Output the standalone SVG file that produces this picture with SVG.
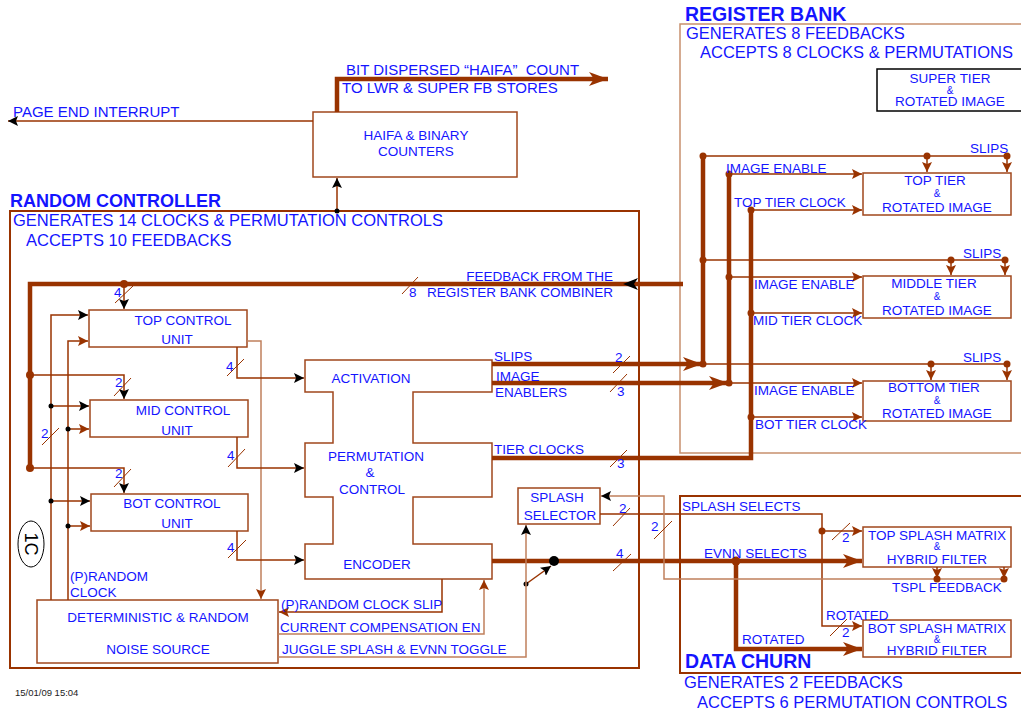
<svg xmlns="http://www.w3.org/2000/svg" width="1021" height="711" viewBox="0 0 1021 711">
<style>
text{font-family:"Liberation Sans",Arial,sans-serif;fill:#1414ff;font-size:13.5px}
.t{font-size:15px}
.big{font-size:16.5px}
.h{font-size:18px;font-weight:bold}
.h2{font-size:19.5px;font-weight:bold}
.sm{font-size:10px}
.mid{text-anchor:middle}
.box{fill:#fff;stroke:#a0471c;stroke-width:1.5}
.c{fill:none;stroke:#993300;stroke-width:1.5}
.lt{fill:none;stroke:#c0805c;stroke-width:1.5}
.th{fill:none;stroke:#993300;stroke-width:4.5}
.sl{stroke:#993300;stroke-width:1}
.d{fill:#993300}
.kd{fill:#000}
</style>
<defs>
<marker id="ak" markerUnits="userSpaceOnUse" markerWidth="11" markerHeight="10" refX="10" refY="5" orient="auto"><path d="M0,0 L10,5 L0,10 L2,5 z" fill="#000"/></marker>
<marker id="ar" markerUnits="userSpaceOnUse" markerWidth="11" markerHeight="10" refX="10" refY="5" orient="auto"><path d="M0,0 L10,5 L0,10 L2,5 z" fill="#993300"/></marker>
<marker id="ab" markerUnits="userSpaceOnUse" markerWidth="20" markerHeight="16" refX="19" refY="8" orient="auto"><path d="M0,1 L19,8 L0,15 L5,8 z" fill="#993300"/></marker>
</defs>

<g id="random-controller">
<rect x="10" y="211" width="629" height="457" fill="none" stroke="#993300" stroke-width="2"/>
<text class="h" x="10" y="207">RANDOM CONTROLLER</text>
<text class="big" x="13" y="226">GENERATES 14 CLOCKS &amp; PERMUTATION CONTROLS</text>
<text class="big" x="26" y="246">ACCEPTS 10 FEEDBACKS</text>
</g>

<g id="register-bank">
<path d="M1022,24 H680 V453 H1022" fill="none" stroke="#c8906e" stroke-width="1.5"/>
<text class="h2" x="685" y="21">REGISTER BANK</text>
<text class="big" x="686" y="39">GENERATES 8 FEEDBACKS</text>
<text class="big" x="700" y="58">ACCEPTS 8 CLOCKS &amp; PERMUTATIONS</text>
</g>

<g id="data-churn">
<path d="M1022,496 H680 V673 H1022" fill="none" stroke="#993300" stroke-width="2"/>
<text class="h2" x="685" y="668">DATA CHURN</text>
<text class="big" x="684" y="688">GENERATES 2 FEEDBACKS</text>
<text class="big" x="697" y="708">ACCEPTS 6 PERMUTATION CONTROLS</text>
</g>

<g id="haifa">
<rect class="box" x="313" y="112" width="204" height="65"/>
<text class="mid" x="416" y="140">HAIFA &amp; BINARY</text>
<text class="mid" x="416" y="156">COUNTERS</text>
</g>

<g id="super-tier">
<rect x="877" y="69" width="150" height="42" fill="#fff" stroke="#000" stroke-width="1.5"/>
<text class="mid" x="950" y="83">SUPER TIER</text>
<text class="mid sm" x="950" y="94">&amp;</text>
<text class="mid" x="950" y="106">ROTATED IMAGE</text>
</g>

<g id="top-tier">
<rect class="box" x="863" y="173" width="148" height="42"/>
<text class="mid" x="935" y="185">TOP TIER</text>
<text class="mid sm" x="937" y="197">&amp;</text>
<text class="mid" x="937" y="212">ROTATED IMAGE</text>
</g>

<g id="middle-tier">
<rect class="box" x="863" y="276" width="148" height="42"/>
<text class="mid" x="934" y="288">MIDDLE TIER</text>
<text class="mid sm" x="937" y="300">&amp;</text>
<text class="mid" x="937" y="315">ROTATED IMAGE</text>
</g>

<g id="bottom-tier">
<rect class="box" x="863" y="381" width="148" height="40"/>
<text class="mid" x="934" y="392">BOTTOM TIER</text>
<text class="mid sm" x="937" y="404">&amp;</text>
<text class="mid" x="937" y="418">ROTATED IMAGE</text>
</g>

<g id="top-control">
<rect class="box" x="89" y="310" width="158" height="37"/>
<text class="mid" x="183" y="325">TOP CONTROL</text>
<text class="mid" x="177" y="344">UNIT</text>
</g>

<g id="mid-control">
<rect class="box" x="90" y="400" width="158" height="37"/>
<text class="mid" x="183" y="415">MID CONTROL</text>
<text class="mid" x="177" y="435">UNIT</text>
</g>

<g id="bot-control">
<rect class="box" x="91" y="494" width="157" height="37"/>
<text class="mid" x="172" y="508">BOT CONTROL</text>
<text class="mid" x="177" y="528">UNIT</text>
</g>

<g id="activation-permutation-encoder">
<path class="box" d="M305,360 H492 V392 H413 V443 H492 V497 H413 V544 H492 V579 H305 V544 H333 V497 H305 V443 H333 V392 H305 Z"/>
<text class="mid" x="371" y="383">ACTIVATION</text>
<text class="mid" x="376" y="461">PERMUTATION</text>
<text class="mid" x="370" y="477">&amp;</text>
<text class="mid" x="372" y="494">CONTROL</text>
<text class="mid" x="377" y="569">ENCODER</text>
</g>

<g id="splash-selector">
<rect class="box" x="518" y="488" width="82" height="36"/>
<text class="mid" x="557" y="502">SPLASH</text>
<text class="mid" x="560" y="520">SELECTOR</text>
</g>

<g id="noise-source">
<rect class="box" x="37" y="600" width="241" height="63"/>
<text class="mid" x="158" y="622">DETERMINISTIC &amp; RANDOM</text>
<text class="mid" x="158" y="654">NOISE SOURCE</text>
</g>

<g id="label-1c">
<ellipse cx="31" cy="544" rx="13" ry="23" fill="#fff" stroke="#000" stroke-width="1"/>
<text x="31" y="544" text-anchor="middle" transform="rotate(90 31 544)" dy="6" style="fill:#000;font-size:18px">1C</text>
</g>

<g id="top-splash">
<rect class="box" x="863" y="527" width="148" height="40"/>
<text class="mid" x="937" y="540">TOP SPLASH MATRIX</text>
<text class="mid sm" x="937" y="550">&amp;</text>
<text class="mid" x="937" y="564">HYBRID FILTER</text>
</g>

<g id="bot-splash">
<rect class="box" x="863" y="620" width="148" height="37"/>
<text class="mid" x="937" y="633">BOT SPLASH MATRIX</text>
<text class="mid sm" x="937" y="643">&amp;</text>
<text class="mid" x="937" y="655">HYBRID FILTER</text>
</g>

<g id="connectors">
<path class="c" d="M313,121 H8" marker-end="url(#ak)"/>
<text class="t" x="13" y="117">PAGE END INTERRUPT</text>
<path class="c" d="M337,211 V178" marker-end="url(#ak)"/>
<circle class="kd" cx="337" cy="211" r="2.5"/>
<path class="th" d="M337,112 V79 H608" stroke-width="5" marker-end="url(#ab)"/>
<text class="t" x="346" y="75" style="white-space:pre">BIT DISPERSED “HAIFA”  COUNT</text>
<text class="t" x="342" y="93">TO LWR &amp; SUPER FB STORES</text>

<path class="th" d="M683,284 H30 V468" stroke-width="5"/>
<polygon points="623,284 638,278 634,284 638,290" fill="#000"/>
<line class="sl" x1="402" y1="294" x2="418" y2="277"/>
<text x="409" y="297">8</text>
<text x="613" y="281" text-anchor="end">FEEDBACK FROM THE</text>
<text x="613" y="297" text-anchor="end">REGISTER BANK COMBINER</text>
<circle class="d" cx="124" cy="284" r="4"/>
<circle class="d" cx="30" cy="375" r="4"/>
<circle class="d" cx="30" cy="468" r="4"/>
<path class="c" d="M124,284 V309" marker-end="url(#ak)"/>
<line class="sl" x1="115" y1="303" x2="133" y2="286"/>
<text x="114" y="297">4</text>
<path class="c" d="M30,375 H124 V399" marker-end="url(#ak)"/>
<line class="sl" x1="114" y1="396" x2="131" y2="378"/>
<text x="115" y="387">2</text>
<path class="c" d="M30,468 H124 V493" marker-end="url(#ak)"/>
<line class="sl" x1="114" y1="487" x2="131" y2="469"/>
<text x="115" y="478">2</text>

<path class="c" d="M51,600 V315 H88" marker-end="url(#ak)"/>
<path class="c" d="M51,406 H89" marker-end="url(#ak)"/>
<path class="c" d="M51,501 H90" marker-end="url(#ak)"/>
<circle class="kd" cx="51" cy="406" r="2.5"/>
<circle class="kd" cx="51" cy="501" r="2.5"/>
<line class="sl" x1="42" y1="445" x2="59" y2="428"/>
<text x="41" y="438">2</text>
<path class="c" d="M68,600 V341 H88" marker-end="url(#ar)"/>
<path class="c" d="M68,429 H89" marker-end="url(#ar)"/>
<path class="c" d="M68,526 H90" marker-end="url(#ar)"/>
<circle class="kd" cx="68" cy="429" r="2.5"/>
<circle class="kd" cx="68" cy="526" r="2.5"/>
<text x="70" y="581">(P)RANDOM</text>
<text x="70" y="597">CLOCK</text>

<path class="lt" d="M247,341 H261 V599" marker-end="url(#ar)"/>

<path class="c" d="M237,347 V378 H304" marker-end="url(#ak)"/>
<line class="sl" x1="227" y1="376" x2="244" y2="359"/>
<text x="226" y="371">4</text>
<path class="c" d="M237,437 V468 H304" marker-end="url(#ak)"/>
<line class="sl" x1="228" y1="467" x2="245" y2="449"/>
<text x="227" y="460">4</text>
<path class="c" d="M237,531 V560 H304" marker-end="url(#ak)"/>
<line class="sl" x1="228" y1="558" x2="246" y2="540"/>
<text x="227" y="552">4</text>

<path class="th" d="M492,364 H702" marker-end="url(#ab)"/>
<text x="494" y="361">SLIPS</text>
<line class="sl" x1="613" y1="373" x2="630" y2="356"/>
<text x="615" y="362">2</text>
<path class="th" d="M492,383 H728" marker-end="url(#ab)"/>
<text x="496" y="381">IMAGE</text>
<text x="495" y="397">ENABLERS</text>
<line class="sl" x1="610" y1="392" x2="627" y2="374"/>
<text x="617" y="396">3</text>
<path class="th" d="M492,458 H751 V209"/>
<text x="494" y="454">TIER CLOCKS</text>
<line class="sl" x1="610" y1="467" x2="627" y2="450"/>
<text x="617" y="468">3</text>
<path class="th" d="M703,364 V156"/>
<path class="th" d="M729,383 V174"/>

<path class="c" d="M703,156 H1007"/>
<path class="c" d="M927,156 V172" marker-end="url(#ar)"/>
<path class="c" d="M1007,156 V172" marker-end="url(#ar)"/>
<circle class="d" cx="703" cy="156" r="3.5"/>
<circle class="d" cx="927" cy="156" r="3.5"/>
<circle class="d" cx="1007" cy="156" r="3.5"/>
<text x="970" y="153">SLIPS</text>
<path class="c" d="M729,174 H862" marker-end="url(#ar)"/>
<circle class="d" cx="729" cy="174" r="3.5"/>
<text x="726" y="173">IMAGE ENABLE</text>
<path class="c" d="M751,210 H862" marker-end="url(#ar)"/>
<circle class="d" cx="751" cy="210" r="3.5"/>
<text x="734" y="207">TOP TIER CLOCK</text>

<path class="c" d="M703,260 H1005"/>
<path class="c" d="M951,260 V275" marker-end="url(#ar)"/>
<path class="c" d="M1005,260 V275" marker-end="url(#ar)"/>
<circle class="d" cx="703" cy="260" r="3.5"/>
<circle class="d" cx="951" cy="260" r="3.5"/>
<circle class="d" cx="1005" cy="260" r="3.5"/>
<text x="963" y="258">SLIPS</text>
<path class="c" d="M729,277 H862" marker-end="url(#ar)"/>
<circle class="d" cx="729" cy="277" r="3.5"/>
<text x="754" y="289">IMAGE ENABLE</text>
<path class="c" d="M751,313 H862" marker-end="url(#ar)"/>
<circle class="d" cx="751" cy="313" r="3.5"/>
<text x="753" y="325">MID TIER CLOCK</text>

<path class="c" d="M703,364 H1007"/>
<path class="c" d="M931,364 V380" marker-end="url(#ar)"/>
<path class="c" d="M1007,364 V380" marker-end="url(#ar)"/>
<circle class="d" cx="703" cy="364" r="3.5"/>
<circle class="d" cx="931" cy="364" r="3.5"/>
<circle class="d" cx="1007" cy="364" r="3.5"/>
<text x="963" y="362">SLIPS</text>
<path class="c" d="M729,383 H862" marker-end="url(#ar)"/>
<circle class="d" cx="729" cy="383" r="3.5"/>
<text x="754" y="395">IMAGE ENABLE</text>
<path class="c" d="M751,417 H862" marker-end="url(#ar)"/>
<circle class="d" cx="751" cy="417" r="3.5"/>
<text x="755" y="429">BOT TIER CLOCK</text>

<path class="th" d="M492,561 H862" marker-end="url(#ab)"/>
<circle fill="#000" cx="554" cy="561" r="5"/>
<line class="sl" x1="613" y1="571" x2="631" y2="554"/>
<text x="616" y="558">4</text>
<path class="th" d="M736,561 V649 H862" marker-end="url(#ab)"/>
<circle class="d" cx="736" cy="561" r="4.5"/>
<text x="704" y="558">EVNN SELECTS</text>
<text x="742" y="644">ROTATED</text>

<path class="c" d="M526,584 L551,566" marker-end="url(#ak)"/>
<circle fill="#000" cx="526" cy="584" r="2.5"/>

<path class="c" d="M600,514 H822 V626 H862" marker-end="url(#ar)"/>
<path class="c" d="M822,531 H862" marker-end="url(#ar)"/>
<circle class="d" cx="822" cy="531" r="3.5"/>
<line class="sl" x1="613" y1="526" x2="630" y2="508"/>
<text x="619" y="513">2</text>
<line class="sl" x1="832" y1="540" x2="850" y2="523"/>
<text x="842" y="542">2</text>
<line class="sl" x1="830" y1="636" x2="847" y2="619"/>
<text x="842" y="637">2</text>
<text x="682" y="511">SPLASH SELECTS</text>
<text x="826" y="620">ROTATED</text>

<path class="c" d="M937,567 V578" marker-end="url(#ar)"/>
<path class="c" d="M1004,567 V578" marker-end="url(#ar)"/>
<path class="lt" d="M1004,579 H664 V496 H601" marker-end="url(#ak)"/>
<circle class="d" cx="937" cy="579" r="3.5"/>
<circle class="d" cx="1004" cy="579" r="3.5"/>
<line class="sl" x1="654" y1="539" x2="672" y2="521"/>
<text x="651" y="531">2</text>
<text x="892" y="592">TSPL FEEDBACK</text>

<path class="lt" d="M278,657 H526 V525" marker-end="url(#ak)"/>
<text x="282" y="654">JUGGLE SPLASH &amp; EVNN TOGGLE</text>
<path class="lt" d="M278,634 H484 V580" marker-end="url(#ar)"/>
<text x="280" y="632">CURRENT COMPENSATION EN</text>
<path class="c" d="M442,579 V612 H279" marker-end="url(#ar)"/>
<text x="281" y="609">(P)RANDOM CLOCK SLIP</text>
</g>

<text x="15" y="696" style="fill:#222;font-size:9.5px">15/01/09 15:04</text>
</svg>
